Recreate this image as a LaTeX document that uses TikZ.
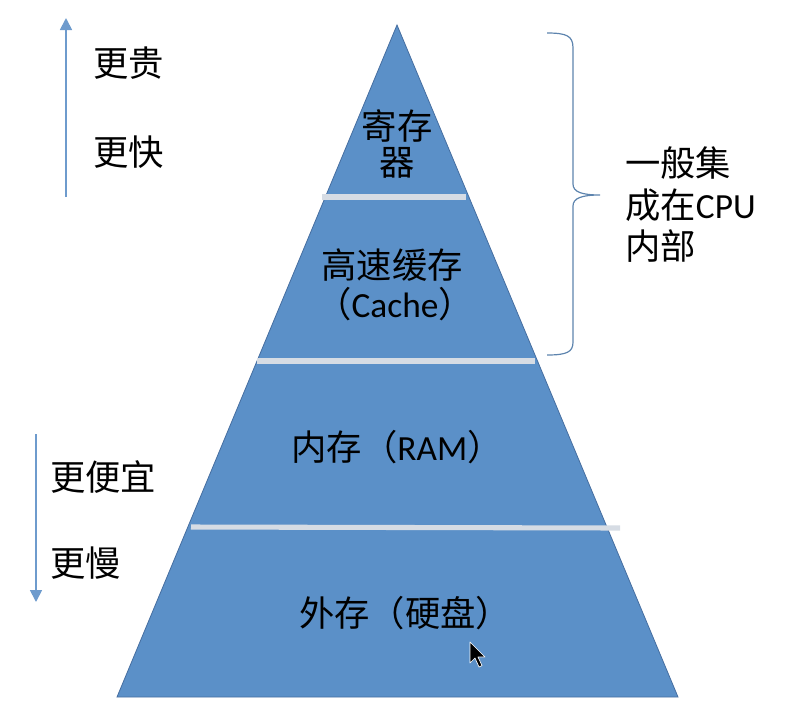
\documentclass[tikz,border=0pt]{standalone}
\usepackage{fontspec}
\setmainfont{Carlito}
\newfontfamily\cjk{Noto Sans CJK SC}
\definecolor{pyrfill}{RGB}{91,144,200}
\definecolor{pyredge}{RGB}{70,110,160}
\definecolor{sepgray}{RGB}{214,220,228}
\definecolor{arrblue}{RGB}{110,155,205}
\usetikzlibrary{arrows.meta}
\begin{document}
\begin{tikzpicture}[x=0.75pt,y=-0.75pt,
  lbl/.style={inner sep=0pt,font=\fontsize{26.5}{31}\selectfont,text=black},
  sepline/.style={draw=sepgray,line width=3.8pt},
  sidearrow/.style={draw=arrblue,line width=1.3pt,-{Triangle[length=9pt,width=9pt]}},
  bracestyle/.style={draw=arrblue!85!black,line width=0.9pt}]
\useasboundingbox (0,0) rectangle (799,715);
% pyramid
\coordinate (apex) at (397,25);
\coordinate (bl) at (117,697);
\coordinate (br) at (678,697);
\fill[pyrfill,draw=pyredge,line width=0.6pt] (apex) -- (br) -- (bl) -- cycle;
% separators
\coordinate (s1l) at (322,197); \coordinate (s1r) at (466,197);
\coordinate (s2l) at (257,361); \coordinate (s2r) at (535,361);
\coordinate (s3l) at (191,527); \coordinate (s3r) at (620,528);
\draw[sepline] (s1l) -- (s1r);
\draw[sepline] (s2l) -- (s2r);
\draw[sepline] (s3l) -- (s3r);
% labels inside
\node[lbl] (reg1) at (397,126) {\cjk 寄存};
\node[lbl] (reg2) at (397,163) {\cjk 器};
\node[lbl] (cache1) at (392,265) {\cjk 高速缓存};
\node[lbl] (cache2) at (395,304) {{\cjk （}Cache{\cjk ）}};
\node[lbl] (ram) at (397,447) {{\cjk 内存（}RAM{\cjk ）}};
\node[lbl] (disk) at (405,613) {\cjk 外存（硬盘）};
% left labels
\coordinate (upS) at (66,197);
\coordinate (upE) at (66,18);
\draw[sidearrow] (upS) -- (upE);
\node[lbl,anchor=west] (gui) at (93,63) {\cjk 更贵};
\node[lbl,anchor=west] (kuai) at (93,152) {\cjk 更快};
\coordinate (dnS) at (36,434);
\coordinate (dnE) at (36,602);
\draw[sidearrow] (dnS) -- (dnE);
\node[lbl,anchor=west] (pianyi) at (50,477) {\cjk 更便宜};
\node[lbl,anchor=west] (man) at (50,563) {\cjk 更慢};
% brace
\coordinate (bt) at (547,33);
\coordinate (bb) at (547,355);
\coordinate (btip) at (600,195);
\draw[bracestyle] (bt) .. controls (567,33) and (573,36) .. (573,48)
  -- (573,184) .. controls (573,192) and (582,195) .. (btip)
  .. controls (582,195) and (573,198) .. (573,206)
  -- (573,342) .. controls (573,352) and (567,355) .. (bb);
\node[lbl,anchor=west] (cpu1) at (625,163) {\cjk 一般集};
\node[lbl,anchor=west] (cpu2) at (625,205) {{\cjk 成在}CPU};
\node[lbl,anchor=west] (cpu3) at (625,246) {\cjk 内部};
% mouse cursor
\fill[black,draw=white,line width=0.5pt,line join=round]
  (470,642) -- (470,663) -- (475,658) -- (479,667) -- (482,665.5) -- (478,657) -- (485,657) -- cycle;
\end{tikzpicture}
\end{document}
